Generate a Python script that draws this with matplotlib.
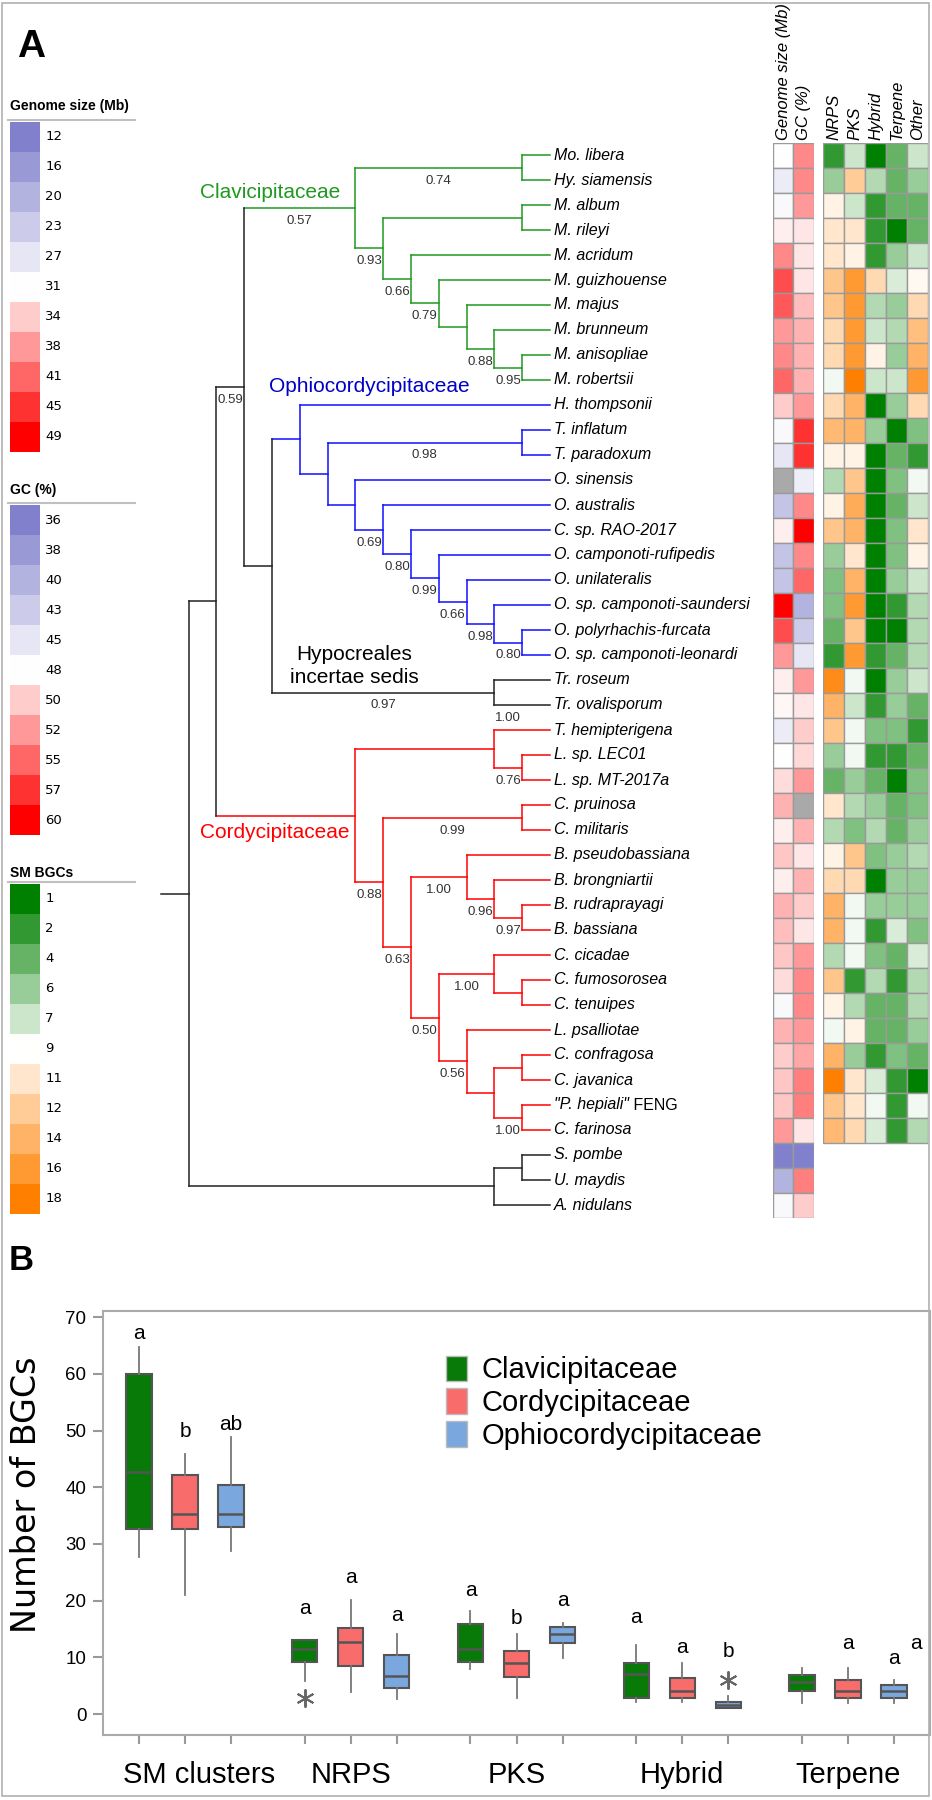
import numpy as np
import matplotlib
matplotlib.use('Agg')
import matplotlib.pyplot as plt
import matplotlib.transforms as mtransforms
from matplotlib.colors import LinearSegmentedColormap
from matplotlib.patches import Patch, Rectangle
from matplotlib.lines import Line2D

plt.rcParams['font.family'] = 'Liberation Sans'

# ---------------- data: panel A ----------------
species = ['Mo. libera', 'Hy. siamensis', 'M. album', 'M. rileyi', 'M. acridum',
           'M. guizhouense', 'M. majus', 'M. brunneum', 'M. anisopliae', 'M. robertsii',
           'H. thompsonii', 'T. inflatum', 'T. paradoxum', 'O. sinensis', 'O. australis',
           'C. sp. RAO-2017', 'O. camponoti-rufipedis', 'O. unilateralis',
           'O. sp. camponoti-saundersi', 'O. polyrhachis-furcata', 'O. sp. camponoti-leonardi',
           'Tr. roseum', 'Tr. ovalisporum', 'T. hemipterigena', 'L. sp. LEC01', 'L. sp. MT-2017a',
           'C. pruinosa', 'C. militaris', 'B. pseudobassiana', 'B. brongniartii',
           'B. rudraprayagi', 'B. bassiana', 'C. cicadae', 'C. fumosorosea', 'C. tenuipes',
           'L. psalliotae', 'C. confragosa', 'C. javanica', '"P. hepiali" FENG', 'C. farinosa',
           'S. pombe', 'U. maydis', 'A. nidulans']

genome_mb = [31, 28, 30, 32, 39, 43, 42, 38, 39, 41, 34, 30, 27, np.nan, 22, 32, 22, 22,
             49, 43, 38, 32, 31.5, 28, 31, 33, 36, 32, 34.5, 32, 36, 35, 34.5, 33, 30, 36,
             34, 34.5, 34.5, 38, 12, 20, 30]
gc_pct = [53, 53, 52, 49, 49, 49, 50.5, 51, 51, 51, 52, 57, 57, 46, 53, 60, 53, 55, 40, 43,
          45, 52, 49, 50, 49.5, 52, np.nan, 51, 49, 51, 50, 49, 52, 53, 53, 52, 51.5, 53.5,
          53.5, 49, 36, 53.5, 50]

nrps = [2, 6, 10, 11, 11, 12.5, 12.5, 11.5, 11.5, 8.5, 11.5, 13.5, 10, 6.5, 10, 12.5, 6, 5,
        5, 4, 2, 17, 14, 12.5, 6, 4, 11, 6.5, 10, 11.5, 14, 14, 6.5, 12.5, 10, 8.5, 14, 18,
        12.5, 13.5]
pks = [7, 12, 7, 11, 10, 16, 16, 16, 16, 18, 14, 14, 10, 12.5, 14.5, 14, 11, 14, 16, 12.5,
       16, 8.5, 7, 8.5, 8.5, 6, 6.5, 5, 12.5, 11.5, 8.5, 8.5, 8.5, 2, 6.5, 10, 6, 11, 11, 11.5]
hybrid = [1, 6.5, 2, 2, 2, 11.5, 6.5, 7, 10, 7, 1, 6, 1, 1, 1, 1, 1, 1, 1, 1, 2, 1, 2, 5, 2,
          4, 6, 6.5, 5, 1, 6, 2, 5, 6.5, 4, 4, 2, 7.5, 8.5, 7.5]
terpene = [4, 4, 4, 1, 6, 7.5, 6, 6.5, 6, 7, 6, 1, 4, 5, 4, 5, 5, 6, 2, 1, 4, 6, 6, 5, 2, 1,
           4, 4, 6, 6, 6, 7.5, 4, 2, 4, 4, 5, 2, 2, 2]
other = [7, 6, 4, 4, 7, 9.5, 11.5, 13, 14, 16, 11.5, 5, 2, 8.5, 7, 11, 10, 7, 6.5, 6.5, 6.5,
         7, 4, 2, 4, 5, 5, 6, 6.5, 6, 6, 5, 7.5, 6.5, 6.5, 6, 4, 1, 8.5, 6.5]

genome_legend = [12, 16, 20, 23, 27, 31, 34, 38, 41, 45, 49]
gc_legend = [36, 38, 40, 43, 45, 48, 50, 52, 55, 57, 60]
bgc_legend = [1, 2, 4, 6, 7, 9, 11, 12, 14, 16, 18]
bgc_cols = ['NRPS', 'PKS', 'Hybrid', 'Terpene', 'Other']

GREEN, BLUE, RED, BLACK = '#1f991f', '#1010ff', '#ff0000', '#222222'


def N(level, kids, sup=None, color=None, extra=None):
    return {'level': level, 'kids': kids, 'sup': sup, 'color': color, 'extra': extra}


clav = N(7, [N(13, ['Mo. libera', 'Hy. siamensis'], '0.74'),
             N(8, [N(13, ['M. album', 'M. rileyi']),
                   N(9, ['M. acridum',
                         N(10, ['M. guizhouense',
                                N(11, ['M. majus',
                                       N(12, ['M. brunneum',
                                              N(13, ['M. anisopliae', 'M. robertsii'], '0.95')],
                                         '0.88')])], '0.79')], '0.66')], '0.93')],
         '0.57', color=GREEN)

ophio = N(5, ['H. thompsonii',
              N(6, [N(13, ['T. inflatum', 'T. paradoxum'], '0.98'),
                    N(7, ['O. sinensis',
                          N(8, ['O. australis',
                                N(9, ['C. sp. RAO-2017',
                                      N(10, ['O. camponoti-rufipedis',
                                             N(11, ['O. unilateralis',
                                                    N(12, ['O. sp. camponoti-saundersi',
                                                           N(13, ['O. polyrhachis-furcata',
                                                                  'O. sp. camponoti-leonardi'], '0.80')],
                                                      '0.98')], '0.66')], '0.99')], '0.80')], '0.69')])])],
          color=BLUE)

hypo = N(12, ['Tr. roseum', 'Tr. ovalisporum'], '0.97', extra='1.00')

cordy = N(7, [N(12, ['T. hemipterigena', N(13, ['L. sp. LEC01', 'L. sp. MT-2017a'], '0.76')]),
              N(8, [N(13, ['C. pruinosa', 'C. militaris'], '0.99'),
                    N(9, [N(11, ['B. pseudobassiana',
                                 N(12, ['B. brongniartii',
                                        N(13, ['B. rudraprayagi', 'B. bassiana'], '0.97')], '0.96')],
                            '1.00'),
                          N(10, [N(12, ['C. cicadae', N(13, ['C. fumosorosea', 'C. tenuipes'])], '1.00'),
                                 N(11, ['L. psalliotae',
                                        N(12, [N(13, ['C. confragosa', 'C. javanica']),
                                               N(13, ['"P. hepiali" FENG', 'C. farinosa'], '1.00')])],
                                   '0.56')], '0.50')], '0.63')], '0.88')],
          color=RED)

outgroup = N(12, [N(13, ['S. pombe', 'U. maydis']), 'A. nidulans'])
tree = N(1, [N(2, [N(3, [clav, N(4, [ophio, hypo])], '0.59'), cordy]), outgroup])

clade_labels = [('Clavicipitaceae', 1.4, 1.52, GREEN, 'left'),
                ('Ophiocordycipitaceae', 3.9, 9.28, '#0000c8', 'left'),
                ('Hypocreales\nincertae sedis', 6.95, 20.45, 'black', 'center'),
                ('Cordycipitaceae', 1.4, 27.1, RED, 'left')]

# ---------------- data: panel B ----------------
categories = ['SM clusters', 'NRPS', 'PKS', 'Hybrid', 'Terpene']
families = ['Clavicipitaceae', 'Cordycipitaceae', 'Ophiocordycipitaceae']
fam_colors = ['#087a08', '#f86c6c', '#79a7de']

whislo = [[27.7, 5.8, 8.0, 2.1, 2.0], [21.0, 3.8, 2.9, 2.1, 2.0], [28.8, 2.7, 9.9, 1.0, 2.0]]
q1 = [[32.6, 9.2, 9.2, 2.9, 4.0], [32.6, 8.5, 6.6, 2.9, 2.8], [33.0, 4.6, 12.6, 1.1, 2.8]]
med = [[42.7, 11.5, 11.5, 7.1, 5.7], [35.2, 12.7, 9.0, 4.1, 4.0], [35.2, 6.7, 14.2, 1.6, 4.0]]
q3 = [[60.0, 13.0, 15.9, 9.0, 6.8], [42.1, 15.2, 11.2, 6.4, 6.0], [40.4, 10.4, 15.3, 2.2, 5.2]]
whishi = [[64.7, 13.0, 18.2, 12.1, 8.1], [45.8, 20.1, 14.2, 9.0, 8.1], [48.8, 14.2, 16.0, 3.1, 6.0]]
fliers = [[[], [2.9], [], [], []], [[], [], [], [], []], [[], [], [], [6.0], []]]

letters = [['a', 'b', 'ab'], ['a', 'a', 'a'], ['a', 'b', 'a'], ['a', 'a', 'b'], ['a', 'a', 'a']]
letter_y = [[67.1, 49.8, 51.0], [18.6, 24.1, 17.4], [21.8, 16.8, 20.0], [17.0, 11.8, 11.0],
            [12.4, 12.4, 9.8]]
letter_dx = [[0, 0, 0], [0, 0, 0], [0, 0, 0], [0, 0, 0], [2.47, 0, 0]]

# ---------------- figure ----------------
W, H = 932, 1800
fig = plt.figure(figsize=(W / 100, H / 100), dpi=100)


def px_axes(x0, y0, x1, y1):
    return fig.add_axes([x0 / W, 1 - y1 / H, (x1 - x0) / W, (y1 - y0) / H])


fig.patches.append(Rectangle((2 / W, 4 / H), 927 / W, 1793 / H, transform=fig.transFigure,
                             fill=False, ec='#b0b0b0', lw=1.2))
fig.text(17 / W, 1 - 47 / H, 'A', fontsize=28, weight='bold', va='center')
fig.text(9 / W, 1 - 1261 / H, 'B', fontsize=25, weight='bold', va='center')

# tree: x = depth level, y = row
X0, DX, Y0, DY = 160.7, 27.8, 155.0, 25.0
axt = px_axes(140, 100, 770, 1240)
axt.set_xlim((140 - X0) / DX, (770 - X0) / DX)
axt.set_ylim((1240 - Y0) / DY, (100 - Y0) / DY)
axt.axis('off')
TIP = 14
lwt = 1.1


def draw(node, px, col):
    if isinstance(node, str):
        y = species.index(node)
        axt.plot([px, TIP], [y, y], color=col, lw=lwt, solid_capstyle='projecting')
        if node.endswith(' FENG'):
            t = axt.text(TIP + 0.15, y, node[:-5], style='italic', fontsize=11.5, va='center')
            axt.annotate(' FENG', xy=(1, 0), xycoords=t, va='bottom', fontsize=11.5)
        else:
            axt.text(TIP + 0.15, y, node, style='italic', fontsize=11.5, va='center')
        return y
    col = node['color'] or col
    lv = node['level']
    ys = [draw(k, lv, col) for k in node['kids']]
    y = (ys[0] + ys[-1]) / 2
    axt.plot([lv, lv], [ys[0], ys[-1]], color=col, lw=lwt, solid_capstyle='projecting')
    axt.plot([px, lv], [y, y], color=col, lw=lwt, solid_capstyle='projecting')
    if node['sup']:
        axt.text((px + lv) / 2, y + 0.52, node['sup'], fontsize=9.5, color='#333333',
                 ha='center', va='center')
    if node['extra']:
        axt.text(lv + 0.5, y + 1.02, node['extra'], fontsize=9.5, color='#333333',
                 ha='center', va='center')
    return y


draw(tree, 0, BLACK)
for txt, lx, ly, c, ha in clade_labels:
    axt.text(lx, ly, txt, color=c, fontsize=15, ha=ha, va='center', linespacing=1.25)

# heatmaps
cmap_gs = LinearSegmentedColormap.from_list('gs', ['#8080cc', '#ffffff', '#ff0000'])
cmap_bgc = LinearSegmentedColormap.from_list('bgc', ['#008000', '#ffffff', '#ff8000'])
steps = np.linspace(-1, 1, 11)


def colors_for(vals, legend, cmap):
    out = []
    for v in vals:
        if np.isnan(v):
            out.append('#a9a9a9')
        else:
            out.append(cmap((np.interp(v, legend, steps) + 1) / 2))
    return out


nrow = len(species)
axg = px_axes(772.7, Y0 - DY / 2, 814, Y0 + DY * (nrow - 0.5))
cols_g = [('Genome size (Mb)', genome_mb, genome_legend), ('GC (%)', gc_pct, gc_legend)]
for j, (name, vals, leg) in enumerate(cols_g):
    axg.bar(j + 0.5, 1, bottom=np.arange(nrow), width=1, align='center',
            color=colors_for(np.array(vals, float), leg, cmap_gs), edgecolor='#9a9a9a', lw=1)
    axg.text(j + 0.5, -0.12, name, rotation=90, ha='center', va='bottom', style='italic',
             fontsize=12)
axg.set_xlim(0, 2)
axg.set_ylim(nrow, 0)
axg.axis('off')

nb = len(nrps)
axb = px_axes(823, Y0 - DY / 2, 928, Y0 + DY * (nrow - 0.5))
for j, vals in enumerate([nrps, pks, hybrid, terpene, other]):
    axb.bar(j + 0.5, 1, bottom=np.arange(nb), width=1, align='center',
            color=colors_for(np.array(vals, float), bgc_legend, cmap_bgc), edgecolor='#9a9a9a', lw=1)
    axb.text(j + 0.5, -0.12, bgc_cols[j], rotation=90, ha='center', va='bottom', style='italic',
             fontsize=12)
axb.set_xlim(0, 5)
axb.set_ylim(nrow, 0)
axb.axis('off')

# colour keys on the left
keys = [('Genome size (Mb)', genome_legend, cmap_gs, 106, 120),
        ('GC (%)', gc_legend, cmap_gs, 490, 503),
        ('SM BGCs', bgc_legend, cmap_bgc, 873, 882)]
for title, leg, cmap, ty, uy in keys:
    fig.text(10 / W, 1 - ty / H, title, fontsize=10, weight='bold', va='center')
    fig.lines.append(Line2D([8 / W, 135 / W], [1 - uy / H, 1 - uy / H], color='#c0c0c0',
                            lw=1.5, transform=fig.transFigure))
    axk = px_axes(10, uy + 2, 40, uy + 2 + 30 * len(leg))
    axk.bar(0.5, 1, bottom=np.arange(len(leg)), width=1,
            color=[cmap((s + 1) / 2) for s in steps])
    for k, v in enumerate(leg):
        axk.text(1.17, k + 0.5, str(v), fontsize=9.5, family='DejaVu Sans', va='center',
                 clip_on=False)
    axk.set_xlim(0, 1)
    axk.set_ylim(len(leg), 0)
    axk.axis('off')

# ---------------- panel B ----------------
ax = px_axes(103, 1311, 930, 1735)
gap = 3.6
offsets = [-1, 0, 1]
stats, pos, fcs = [], [], []
for g in range(len(categories)):
    for f in range(len(families)):
        stats.append(dict(whislo=whislo[f][g], q1=q1[f][g], med=med[f][g], q3=q3[f][g],
                          whishi=whishi[f][g], fliers=fliers[f][g]))
        pos.append(g * gap + offsets[f])
        fcs.append(fam_colors[f])

bp = ax.bxp(stats, positions=pos, widths=0.55, patch_artist=True, showcaps=False,
            boxprops=dict(edgecolor='#555555', lw=1.5),
            medianprops=dict(color='#555555', lw=1.8),
            whiskerprops=dict(color='#777777', lw=1.3),
            flierprops=dict(marker=(6, 2, 0), markersize=13, markeredgecolor='#666666',
                            markeredgewidth=1.4, markerfacecolor='none'))
for patch, c in zip(bp['boxes'], fcs):
    patch.set_facecolor(c)

for g in range(len(categories)):
    for f in range(len(families)):
        ax.text(g * gap + offsets[f] + letter_dx[g][f], letter_y[g][f], letters[g][f],
                ha='center', va='center', fontsize=15)

ax.set_xlim(-1.78, 16.18)
ax.set_ylim(-3.7, 71.1)
ax.set_xticks(pos)
ax.set_xticklabels([])
ax.set_yticks(range(0, 71, 10))
ax.tick_params(axis='x', length=6.5, width=1.5, color='#999999')
ax.tick_params(axis='y', length=7, width=1.5, color='#999999', labelsize=13.5, pad=5)
for s in ax.spines.values():
    s.set_color('#aaaaaa')
    s.set_linewidth(1.5)

trans = mtransforms.blended_transform_factory(ax.transData, ax.transAxes)
for g, name in enumerate(categories):
    ax.text(g * gap + (0.3 if g == 0 else 0), -0.094, name, transform=trans, ha='center',
            va='center', fontsize=21)

fig.text(27 / W, 1 - 1495 / H, 'Number of BGCs', rotation=90, fontsize=24,
         family='DejaVu Sans', ha='center', va='center')

handles = [Patch(facecolor=c, edgecolor='#bbbbbb') for c in fam_colors]
ax.legend(handles, families, loc='upper left', bbox_to_anchor=(0.415, 0.895), frameon=False,
          fontsize=21, handlelength=0.7, handleheight=0.95, handletextpad=0.5,
          labelspacing=0.15, borderpad=0, borderaxespad=0)

fig.savefig('out.png', dpi=100)
